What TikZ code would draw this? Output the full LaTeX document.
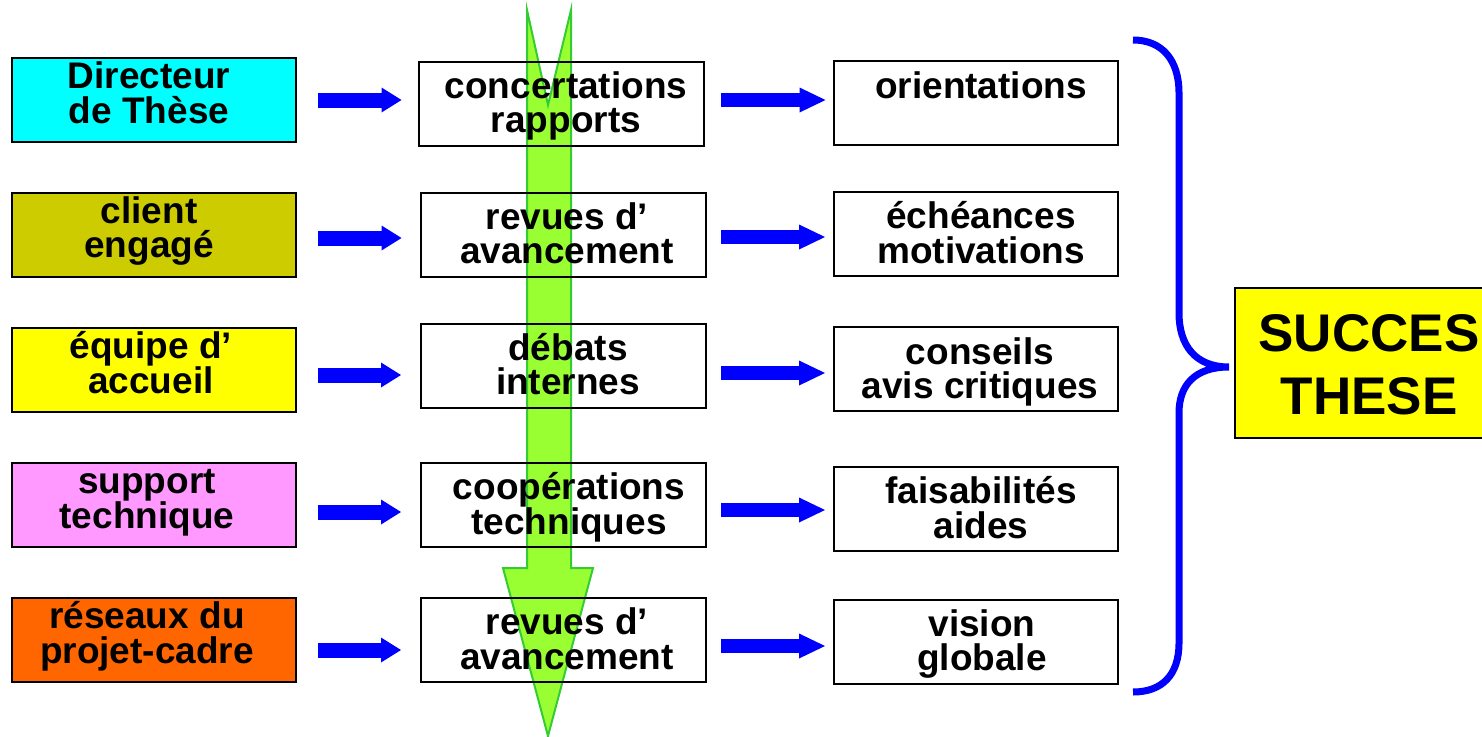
\documentclass[tikz,border=0pt]{standalone}
\usepackage{fontspec}
\setmainfont{Liberation Sans}
\usetikzlibrary{arrows.meta,calc}
\definecolor{gfill}{HTML}{99FF33}
\definecolor{gline}{HTML}{33CC33}
\definecolor{cyanbox}{HTML}{00FFFF}
\definecolor{olivebox}{HTML}{CCCC00}
\definecolor{yellowbox}{HTML}{FFFF00}
\definecolor{pinkbox}{HTML}{FF99FF}
\definecolor{orangebox}{HTML}{FF6600}
\definecolor{arrowblue}{HTML}{0000FF}
\newcommand\mystr{\vphantom{Ég}}
\newcommand\tightlines{\lineskiplimit=-100pt\relax\lineskip=0pt\relax}
\begin{document}
\begin{tikzpicture}[x=1pt,y=-1pt,
  box/.style={draw=black,line width=2pt,rectangle,inner sep=0pt,minimum height=84pt},
  lbox/.style={box,minimum width=284pt},
  mbox/.style={box,minimum width=285pt},
  rbox/.style={box,minimum width=284pt},
  txt/.style={font=\bfseries\fontsize{37}{34.5}\selectfont\tightlines,align=center,inner sep=0pt},
  bigtxt/.style={font=\bfseries\fontsize{53}{63}\selectfont,align=center,inner sep=0pt},
  barrowA/.style={draw=arrowblue,line width=15pt,-{Triangle[length=20pt,width=25pt,line width=0pt]}},
  barrowB/.style={draw=arrowblue,line width=14pt,-{Triangle[length=26pt,width=25pt,line width=0pt]}},
  greenarrow/.style={draw=gline,fill=gfill,line width=2pt,line join=miter},
  brace/.style={draw=arrowblue,line width=7pt}
]
\useasboundingbox (0,0) rectangle (1482,736);

% big green arrow (behind everything)
\draw[greenarrow] (527,10) -- (548,105) -- (571,10) -- (571,568) -- (593,568)
  -- (548,736) -- (503,568) -- (527,568) -- cycle;

% left boxes
\node[lbox,fill=cyanbox]   (L1) at (154,100) {};
\node[lbox,fill=olivebox]  (L2) at (154,235) {};
\node[lbox,fill=yellowbox] (L3) at (154,370) {};
\node[lbox,fill=pinkbox]   (L4) at (154,505) {};
\node[lbox,fill=orangebox] (L5) at (154,639.5) {};

% middle boxes
\node[mbox] (M1) at (561,103.5) {};
\node[mbox] (M2) at (563,235) {};
\node[mbox] (M3) at (563.5,366) {};
\node[mbox] (M4) at (563.5,505) {};
\node[mbox] (M5) at (563.5,640) {};

% right boxes
\node[rbox] (R1) at (975.5,102.5) {};
\node[rbox] (R2) at (976,234) {};
\node[rbox] (R3) at (976,369) {};
\node[rbox] (R4) at (976,509) {};
\node[rbox] (R5) at (976,642) {};

% SUCCES box
\node[box,fill=yellowbox,minimum width=265pt,minimum height=150pt] (S) at (1367.5,363) {};

% texts
\node[txt] (L1t) at (149,93.5) {\mystr Directeur\\\mystr de Thèse};
\node[txt] (L2t) at (149,228) {\mystr client\\\mystr engagé};
\node[txt] (L3t) at (151,363.5) {\mystr équipe d’\\\mystr accueil};
\node[txt] (L4t) at (147,498.5) {\mystr support\\\mystr technique};
\node[txt] (L5t) at (147,633.5) {\mystr réseaux du\\\mystr projet-cadre};

\node[txt] (M1t) at (566,103) {\mystr concertations\\\mystr rapports};
\node[txt] (M2t) at (567,234) {\mystr revues d’\\\mystr avancement};
\node[txt] (M3t) at (568,365) {\mystr débats\\\mystr internes};
\node[txt] (M4t) at (569,504.5) {\mystr coopérations\\\mystr techniques};
\node[txt] (M5t) at (567,639.5) {\mystr revues d’\\\mystr avancement};

\node[txt] (R1t) at (981,86) {\mystr orientations};
\node[txt] (R2t) at (981,233.5) {\mystr échéances\\\mystr motivations};
\node[txt] (R3t) at (980,369) {\mystr conseils\\\mystr avis critiques};
\node[txt] (R4t) at (981,508.5) {\mystr faisabilités\\\mystr aides};
\node[txt] (R5t) at (982,641) {\mystr vision\\\mystr globale};

\node[bigtxt] (St) at (1369,364.5) {SUCCES\\THESE};

% blue arrows, left column
\draw[barrowA] ($(L1.east)+(21,0)$) -- ($(M1.west |- L1.east)+(-16,0)$);
\draw[barrowA] ($(L2.east)+(21,3)$) -- ($(M2.west |- L2.east)+(-18,3)$);
\draw[barrowA] ($(L3.east)+(21,5)$) -- ($(M3.west |- L3.east)+(-19,5)$);
\draw[barrowA] ($(L4.east)+(21,7)$) -- ($(M4.west |- L4.east)+(-19,7)$);
\draw[barrowA] ($(L5.east)+(21,10.5)$) -- ($(M5.west |- L5.east)+(-19,10.5)$);

% blue arrows, right column
\draw[barrowB] ($(M1.east)+(16,-3.5)$) -- ($(R1.west |- M1.east)+(-7,-3.5)$);
\draw[barrowB] ($(M2.east)+(14,2)$) -- ($(R2.west |- M2.east)+(-8,2)$);
\draw[barrowB] ($(M3.east)+(14,7)$) -- ($(R3.west |- M3.east)+(-8,7)$);
\draw[barrowB] ($(M4.east)+(14,5)$) -- ($(R4.west |- M4.east)+(-8,5)$);
\draw[barrowB] ($(M5.east)+(14,6)$) -- ($(R5.west |- M5.east)+(-8,6)$);

% brace
\coordinate (btop) at (1133,40);
\coordinate (bbot) at (1133,692);
\coordinate (btip) at ($(S.west)+(-5,4)$);
\draw[brace] (btop) .. controls (1162,40) and (1179,60) .. (1179,93)
  -- (1179,313) .. controls (1179,345) and (1195,367) .. (btip)
  .. controls (1195,367) and (1179,385) .. (1179,413)
  -- (1179,643) .. controls (1179,675) and (1162,692) .. (bbot);
\end{tikzpicture}
\end{document}
